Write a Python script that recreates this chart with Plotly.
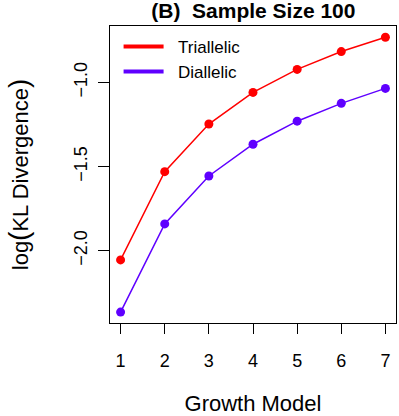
import plotly.graph_objects as go

growth_model = [1, 2, 3, 4, 5, 6, 7]
triallelic = [-2.055, -1.530, -1.247, -1.059, -0.922, -0.816, -0.731]
diallelic = [-2.365, -1.841, -1.556, -1.367, -1.230, -1.124, -1.035]

RED = "#ff0000"
PURPLE = "#5f00ff"
FONT = "Liberation Sans, Arial, Helvetica, sans-serif"
PAD = "\u00a0\u00a0"

fig = go.Figure()

# data lines (legend drawn by separate line-only traces, like R's legend)
for name, ys, col in [("Triallelic", triallelic, RED), ("Diallelic", diallelic, PURPLE)]:
    fig.add_trace(go.Scatter(
        x=growth_model, y=ys, mode="lines+markers", name=name,
        line=dict(color=col, width=1.5),
        marker=dict(color=col, size=9),
        showlegend=False,
    ))
    fig.add_trace(go.Scatter(
        x=[None], y=[None], mode="lines", name=PAD + name,
        line=dict(color=col, width=4),
    ))

fig.update_layout(
    width=399, height=416,
    margin=dict(l=110, r=2, t=26, b=90),
    paper_bgcolor="white", plot_bgcolor="white",
    font=dict(family=FONT, size=18, color="black"),
    title=dict(text="<b>(B)  Sample Size 100</b>", x=0.635, xanchor="center",
               y=1 - 11 / 416, yanchor="middle", yref="container",
               font=dict(size=21)),
    showlegend=True,
    legend=dict(x=0.03, y=0.99, xanchor="left", yanchor="top",
                bgcolor="rgba(0,0,0,0)", font=dict(size=17),
                tracegroupgap=0, itemwidth=40),
    xaxis=dict(range=[0.76, 7.24], tickvals=growth_model, ticks="outside",
               ticklen=10, tickwidth=1, tickcolor="black", showgrid=False,
               zeroline=False, showline=True, linecolor="black", linewidth=1,
               mirror=True, ticklabelstandoff=11,
               title=dict(text="Growth Model", standoff=28)),
    yaxis=dict(range=[-2.43, -0.664], tickvals=[-2.0, -1.5, -1.0],
               ticktext=["\u22122.0", "\u22121.5", "\u22121.0"], tickangle=-90,
               ticks="outside", ticklen=11, tickwidth=1, tickcolor="black",
               showgrid=False, zeroline=False, showline=True,
               linecolor="black", linewidth=1, mirror=True, ticklabelstandoff=4,
               title=dict(text="log<span style='font-size:28px'>(</span>KL Divergence<span style='font-size:28px'>)</span>",
                          standoff=36)),
)

fig.write_html("out.html", config={"displayModeBar": False},
               post_script="document.body.style.margin='0';")
